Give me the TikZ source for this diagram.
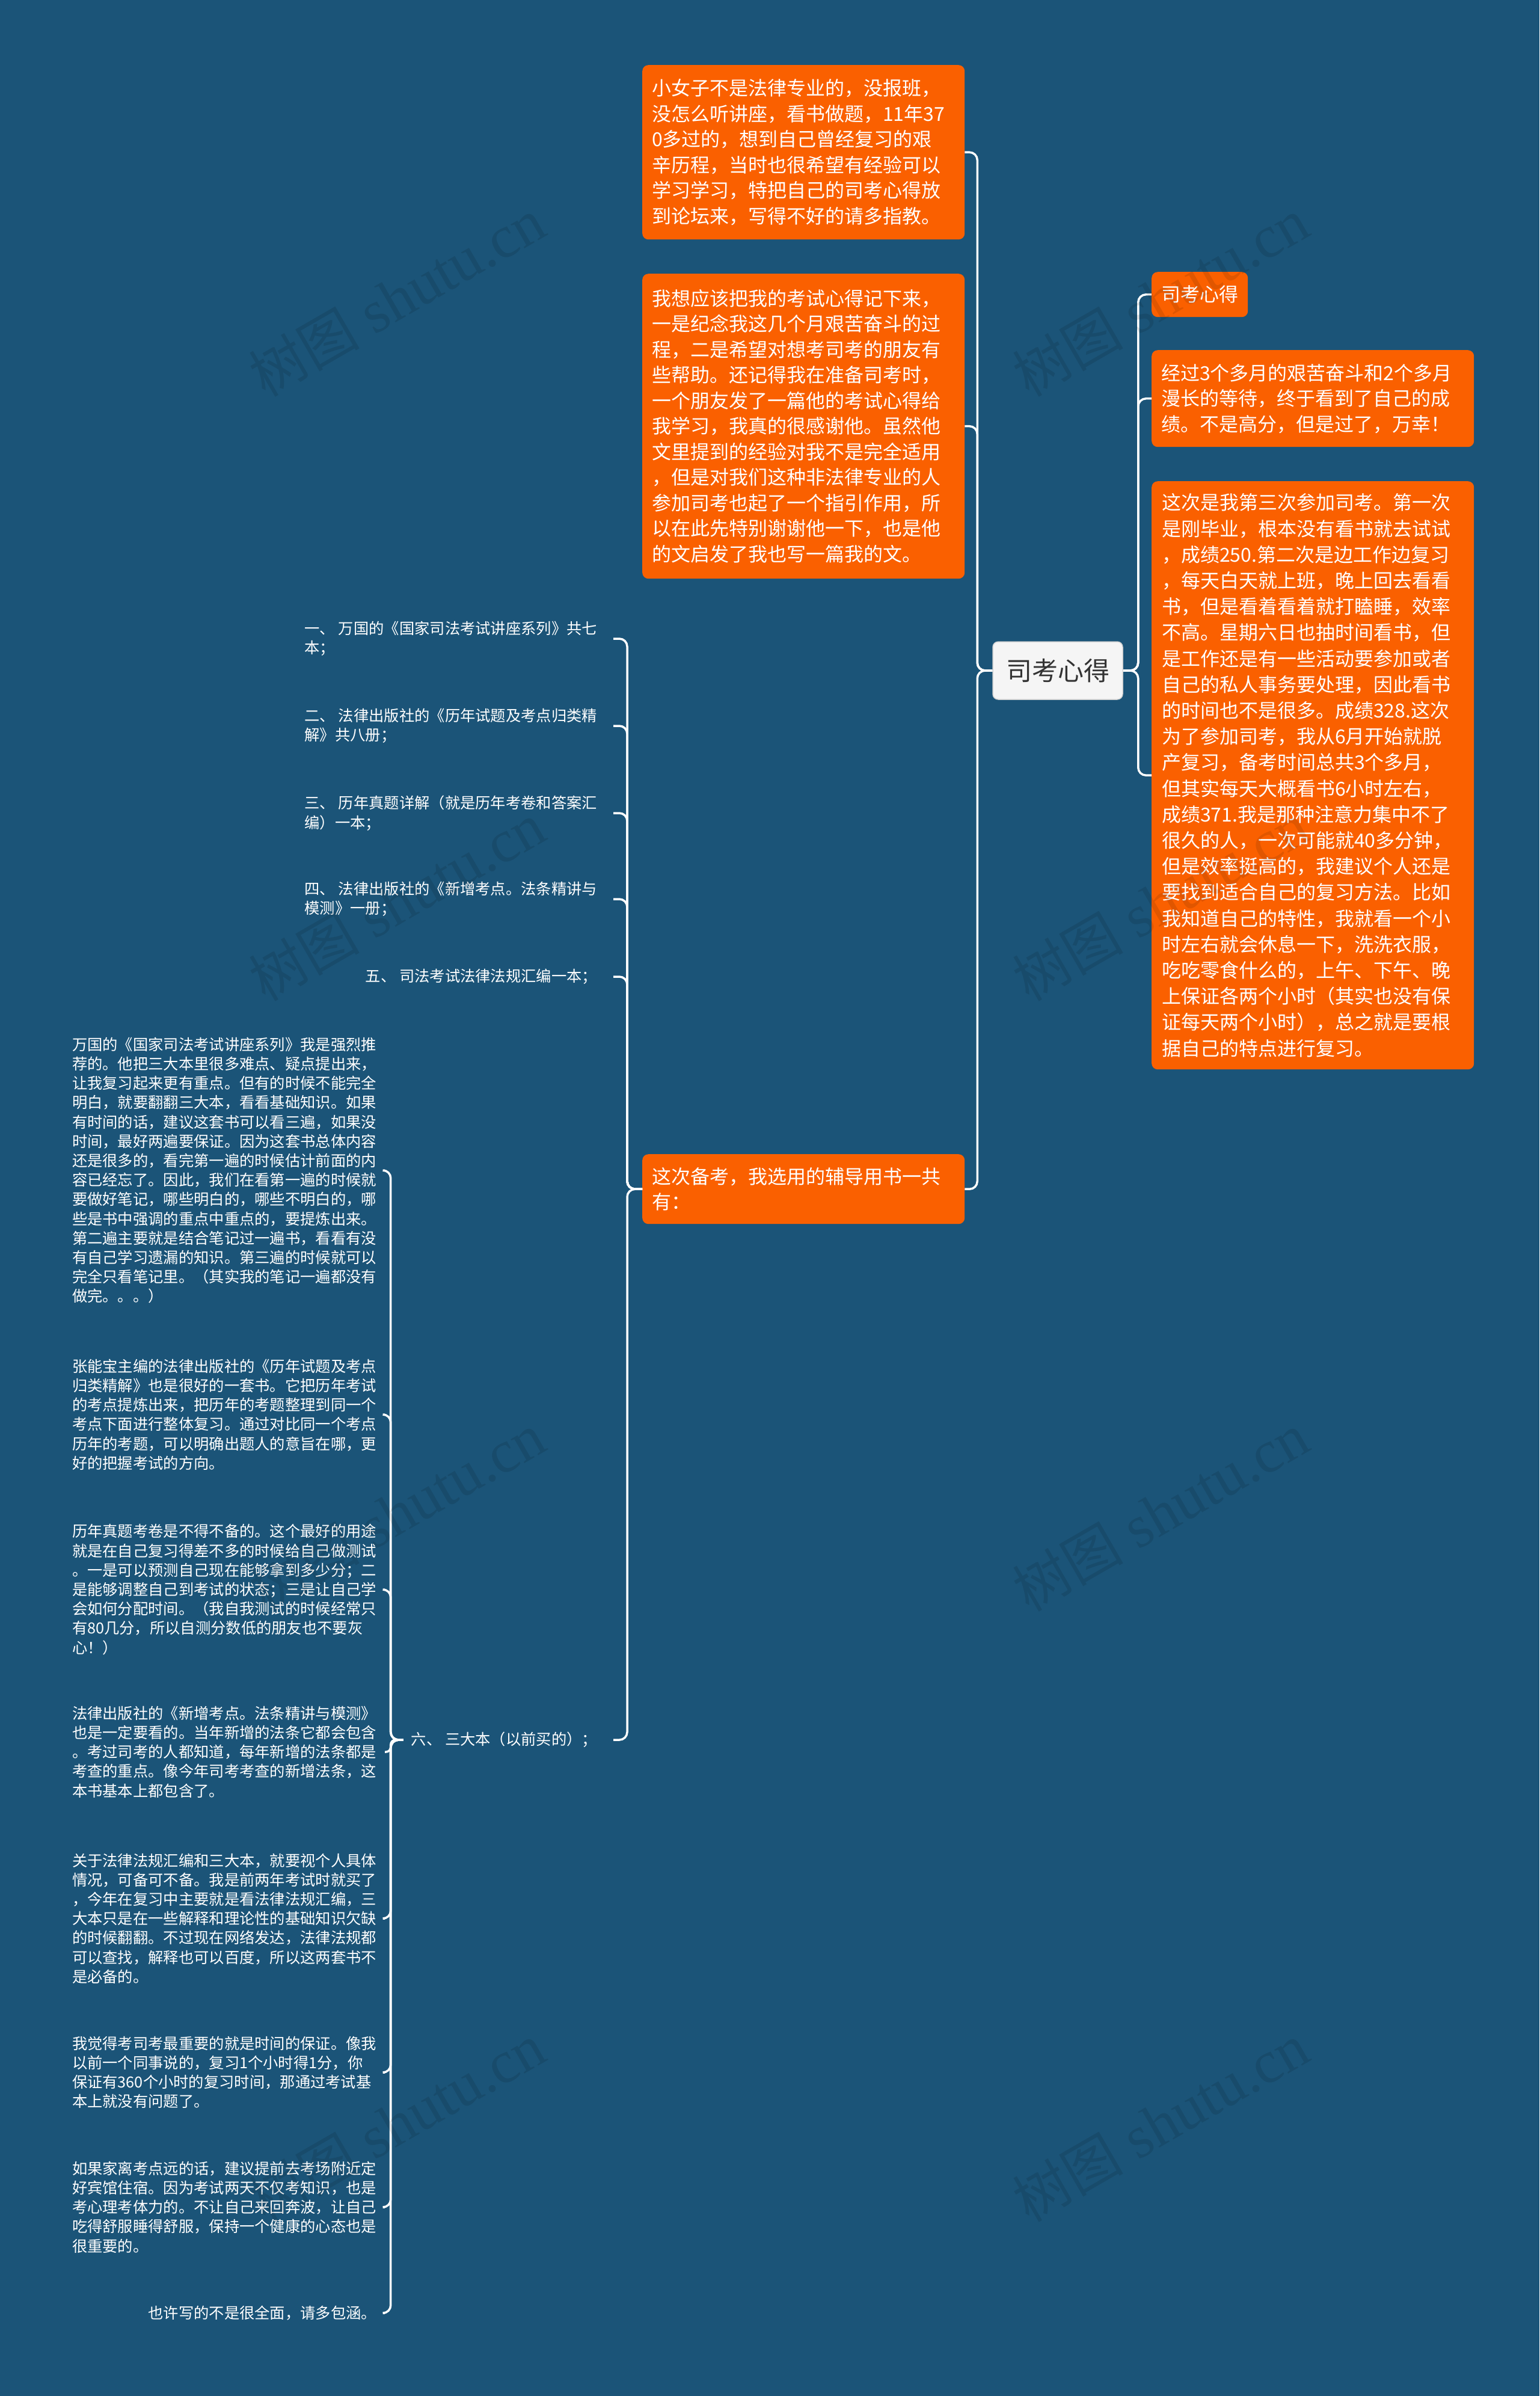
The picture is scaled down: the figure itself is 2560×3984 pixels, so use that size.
\documentclass[tikz,border=0pt]{standalone}
\usepackage{fontspec}
\newfontfamily\cjk{Noto Sans CJK SC}
\newfontfamily\wmserif{Liberation Serif}
\definecolor{bgblue}{RGB}{27,84,120}
\definecolor{boxorange}{RGB}{250,96,0}
\definecolor{rootfill}{RGB}{245,245,245}
\definecolor{roottext}{RGB}{51,51,51}
\tikzset{
  obox/.style={fill=boxorange, rounded corners=10pt, text=white, anchor=north west,
    inner xsep=16pt, inner ysep=0pt, align=left, font=\cjk\fontsize{32}{42.5}\selectfont},
  rootbox/.style={fill=rootfill, draw=black!18, line width=1.5pt, rounded corners=9pt,
    text=roottext, font=\cjk\fontsize{43}{50}\selectfont, minimum width=216pt,
    minimum height=96pt, inner sep=0pt},
  itemtext/.style={text=white, align=left, inner xsep=0pt, inner ysep=0pt, anchor=east,
    outer xsep=27pt, font=\cjk\fontsize{25.3}{32.5}\selectfont},
  paratext/.style={text=white, align=left, inner xsep=0pt, inner ysep=0pt, anchor=east,
    outer xsep=14pt, font=\cjk\fontsize{25.3}{32.2}\selectfont},
  conn/.style={draw=white, line width=3.5pt, rounded corners=13pt},
  wm/.style={text=black, opacity=0.1, rotate=30, inner sep=0pt}
}
\begin{document}
\begin{tikzpicture}[x=1pt,y=-1pt]
\useasboundingbox (0,0) rectangle (2560,3984);
\fill[bgblue] (0,0) rectangle (2560,3984);

% root
\node[rootbox] (c) at (1759,1115) {司考心得};

% left orange boxes
\node[obox, text width=504pt, minimum height=290pt] (l1) at (1068,108) {小女子不是法律专业的，没报班，\\没怎么听讲座，看书做题，11年37\\0多过的，想到自己曾经复习的艰\\辛历程，当时也很希望有经验可以\\学习学习，特把自己的司考心得放\\到论坛来，写得不好的请多指教。};
\node[obox, text width=504pt, minimum height=507pt] (l2) at (1068,455) {我想应该把我的考试心得记下来，\\一是纪念我这几个月艰苦奋斗的过\\程，二是希望对想考司考的朋友有\\些帮助。还记得我在准备司考时，\\一个朋友发了一篇他的考试心得给\\我学习，我真的很感谢他。虽然他\\文里提到的经验对我不是完全适用\\，但是对我们这种非法律专业的人\\参加司考也起了一个指引作用，所\\以在此先特别谢谢他一下，也是他\\的文启发了我也写一篇我的文。};
\node[obox, text width=504pt, minimum height=116pt] (l3) at (1068,1919) {这次备考，我选用的辅导用书一共\\有：};

% right orange boxes
\node[obox, minimum height=75pt] (r1) at (1915,452) {司考心得};
\node[obox, text width=504pt, minimum height=161pt] (r2) at (1915,582) {经过3个多月的艰苦奋斗和2个多月\\漫长的等待，终于看到了自己的成\\绩。不是高分，但是过了，万幸！};
\node[obox, text width=502pt, inner xsep=17pt, minimum height=978pt, font=\cjk\fontsize{32}{43.2}\selectfont] (r3) at (1915,800) {这次是我第三次参加司考。第一次\\是刚毕业，根本没有看书就去试试\\，成绩250.第二次是边工作边复习\\，每天白天就上班，晚上回去看看\\书，但是看着看着就打瞌睡，效率\\不高。星期六日也抽时间看书，但\\是工作还是有一些活动要参加或者\\自己的私人事务要处理，因此看书\\的时间也不是很多。成绩328.这次\\为了参加司考，我从6月开始就脱\\产复习，备考时间总共3个多月，\\但其实每天大概看书6小时左右，\\成绩371.我是那种注意力集中不了\\很久的人，一次可能就40多分钟，\\但是效率挺高的，我建议个人还是\\要找到适合自己的复习方法。比如\\我知道自己的特性，我就看一个小\\时左右就会休息一下，洗洗衣服，\\吃吃零食什么的，上午、下午、晚\\上保证各两个小时（其实也没有保\\证每天两个小时），总之就是要根\\据自己的特点进行复习。};

% items (children of l3)
\node[itemtext] (i1) at (1020,1062) {一、 万国的《国家司法考试讲座系列》共七\\本；};
\node[itemtext] (i2) at (1020,1207) {二、 法律出版社的《历年试题及考点归类精\\解》共八册；};
\node[itemtext] (i3) at (1020,1352) {三、 历年真题详解（就是历年考卷和答案汇\\编）一本；};
\node[itemtext] (i4) at (1020,1495) {四、 法律出版社的《新增考点。法条精讲与\\模测》一册；};
\node[itemtext] (i5) at (1020,1624) {五、 司法考试法律法规汇编一本；};
\node[itemtext] (i6) at (1020,2893) {六、 三大本（以前买的）；};

% paragraphs (children of i6)
\node[paratext] (pA) at (640,1946) {万国的《国家司法考试讲座系列》我是强烈推\\荐的。他把三大本里很多难点、疑点提出来，\\让我复习起来更有重点。但有的时候不能完全\\明白，就要翻翻三大本，看看基础知识。如果\\有时间的话，建议这套书可以看三遍，如果没\\时间，最好两遍要保证。因为这套书总体内容\\还是很多的，看完第一遍的时候估计前面的内\\容已经忘了。因此，我们在看第一遍的时候就\\要做好笔记，哪些明白的，哪些不明白的，哪\\些是书中强调的重点中重点的，要提炼出来。\\第二遍主要就是结合笔记过一遍书，看看有没\\有自己学习遗漏的知识。第三遍的时候就可以\\完全只看笔记里。（其实我的笔记一遍都没有\\做完。。。）};
\node[paratext] (pB) at (640,2352) {张能宝主编的法律出版社的《历年试题及考点\\归类精解》也是很好的一套书。它把历年考试\\的考点提炼出来，把历年的考题整理到同一个\\考点下面进行整体复习。通过对比同一个考点\\历年的考题，可以明确出题人的意旨在哪，更\\好的把握考试的方向。};
\node[paratext] (pC) at (640,2643) {历年真题考卷是不得不备的。这个最好的用途\\就是在自己复习得差不多的时候给自己做测试\\。一是可以预测自己现在能够拿到多少分；二\\是能够调整自己到考试的状态；三是让自己学\\会如何分配时间。（我自我测试的时候经常只\\有80几分，所以自测分数低的朋友也不要灰\\心！）};
\node[paratext] (pD) at (640,2913) {法律出版社的《新增考点。法条精讲与模测》\\也是一定要看的。当年新增的法条它都会包含\\。考过司考的人都知道，每年新增的法条都是\\考查的重点。像今年司考考查的新增法条，这\\本书基本上都包含了。};
\node[paratext] (pE) at (640,3190) {关于法律法规汇编和三大本，就要视个人具体\\情况，可备可不备。我是前两年考试时就买了\\，今年在复习中主要就是看法律法规汇编，三\\大本只是在一些解释和理论性的基础知识欠缺\\的时候翻翻。不过现在网络发达，法律法规都\\可以查找，解释也可以百度，所以这两套书不\\是必备的。};
\node[paratext] (pF) at (640,3446) {我觉得考司考最重要的就是时间的保证。像我\\以前一个同事说的，复习1个小时得1分，你\\保证有360个小时的复习时间，那通过考试基\\本上就没有问题了。};
\node[paratext] (pG) at (640,3670) {如果家离考点远的话，建议提前去考场附近定\\好宾馆住宿。因为考试两天不仅考知识，也是\\考心理考体力的。不让自己来回奔波，让自己\\吃得舒服睡得舒服，保持一个健康的心态也是\\很重要的。};
\node[paratext] (pH) at (640,3846) {也许写的不是很全面，请多包涵。};

% connectors: root to right boxes
\foreach \n in {r1,r2,r3} {
  \draw[conn] (c.east) -- ++(25,0) |- (\n.west);
}
% root to left boxes
\foreach \n in {l1,l2,l3} {
  \draw[conn] (c.west) -- ++(-25,0) |- (\n.east);
}
% l3 to items
\foreach \n in {i1,i2,i3,i4,i5,i6} {
  \draw[conn] (l3.west) -- ++(-25,0) |- (\n.east);
}
% i6 to paragraphs
\foreach \n in {pA,pB,pC,pE,pF,pG,pH} {
  \draw[conn] ([xshift=14pt]i6.west) -- ++(-21,0) |- (\n.east);
}
\draw[conn, rounded corners=8pt] ([xshift=14pt]i6.west) -- ++(-21,0) |- (pD.east);

% watermark
\foreach \wx/\wy/\k in {660/495/1,1930/495/2,660/1500/3,1930/1500/4,660/2515/5,1930/2515/6,660/3530/7,1930/3530/8} {
  \node[wm] (wm\k) at (\wx,\wy) {\wmserif\fontsize{100}{100}\selectfont{\cjk\fontsize{92}{100}\selectfont 树图}\ shutu.cn};
}
\end{tikzpicture}
\end{document}
